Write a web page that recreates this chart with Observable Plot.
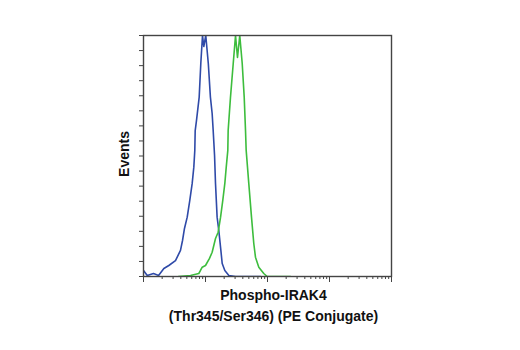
<!DOCTYPE html>
<html>
<head>
<meta charset="utf-8">
<script src="https://cdn.jsdelivr.net/npm/d3@7"></script>
<script src="https://cdn.jsdelivr.net/npm/@observablehq/plot@0.6"></script>
<style>
  html, body { margin: 0; padding: 0; background: #fff; }
  #chart svg { display: block; }
</style>
</head>
<body>
<div id="chart"></div>
<script>
// Fluorescence intensity (log scale) and event counts
const blueX = [1.00, 1.15, 1.45, 1.75, 2.13, 2.56, 3.28, 3.95, 4.26, 4.58, 5.07, 5.58, 6.10, 6.48, 6.72, 6.82, 7.16, 7.91, 8.40, 8.95, 9.39, 10.1, 11.1, 12.0, 12.8, 13.3, 14.0, 14.5, 15.4, 16.4, 17.7, 18.6, 20.5, 23.8, 30.5, 77.1];
const blueY = [4.0, 0.7, 2.0, 0.7, 5.3, 7.3, 10.6, 17.3, 23.9, 31.9, 39.4, 50.5, 61.8, 72.6, 83.7, 96.9, 103.6, 119.1, 141.4, 160, 152.7, 160, 141.4, 119.1, 108.2, 96.9, 80.3, 61.8, 39.4, 30.5, 17.3, 8.6, 4.0, 0.7, 0, 0];

const greenX = [3.67, 5.73, 7.80, 8.30, 8.85, 10.0, 11.6, 12.8, 14.5, 16.0, 17.5, 19.0, 20.5, 21.6, 22.9, 23.2, 25.3, 28.0, 30.5, 32.8, 35.7, 39.1, 42.1, 44.2, 45.3, 49.9, 55.2, 60.1, 64.0, 72.4, 87.1, 98.9, 134.6, 235];
const greenY = [0, 0.7, 2.0, 4.0, 6.2, 7.3, 12.0, 16.1, 25.2, 29.4, 39.4, 50.5, 61.8, 72.6, 83.7, 96.9, 119.1, 141.4, 160, 145.4, 160, 141.4, 119.1, 96.9, 83.7, 61.8, 39.4, 21.9, 12.8, 6.2, 2.0, 0, 0, 0];

const majorTicks = [1, 10, 100, 1000, 10000];
const minorTicks = [2,3,4,5,6,7,8,9,20,30,40,50,60,70,80,90,200,300,400,500,600,700,800,900,2000,3000,4000,5000,6000,7000,8000,9000];
const yTicks = [0,10,20,30,40,50,60,70,80,90,100,110,120,130,140,150,160];

const xLabel = "Phospho-IRAK4\n(Thr345/Ser346) (PE Conjugate)";
const yLabel = "Events";

const blue = blueX.map((x, i) => ({x, y: blueY[i]}));
const green = greenX.map((x, i) => ({x, y: greenY[i]}));

const font = "'Liberation Sans Narrow', 'Arial Narrow', 'Liberation Sans', Arial, sans-serif";

const chart = Plot.plot({
  width: 520,
  height: 350,
  marginLeft: 143,
  marginRight: 129,
  marginTop: 35,
  marginBottom: 74,
  style: {fontFamily: font, background: "#fff"},
  x: {type: "log", domain: [1, 10000]},
  y: {domain: [0, 160]},
  marks: [
    Plot.axisX({ticks: minorTicks, tickSize: 3, tickFormat: () => "", label: null, stroke: "#444"}),
    Plot.axisX({ticks: majorTicks, tickSize: 6, tickFormat: () => "", label: null, stroke: "#444"}),
    Plot.axisY({ticks: yTicks, tickSize: 4, tickFormat: () => "", label: null, stroke: "#444"}),
    Plot.line(blue, {x: "x", y: "y", stroke: "#2f4aa8", strokeWidth: 1.6, clip: true}),
    Plot.line(green, {x: "x", y: "y", stroke: "#3dbd3d", strokeWidth: 1.6, clip: true}),
    Plot.frame({stroke: "#444", strokeWidth: 1.4}),
    Plot.text([xLabel], {frameAnchor: "bottom", dx: 6, dy: 9, lineAnchor: "top", lineHeight: 1.5, fontSize: 14, fontWeight: "bold", fill: "#111"}),
    Plot.text([yLabel], {frameAnchor: "left", textAnchor: "middle", dx: -19, dy: -2, rotate: -90, fontSize: 14, fontWeight: "bold", fill: "#111"})
  ]
});
document.getElementById("chart").appendChild(chart);
</script>
</body>
</html>
